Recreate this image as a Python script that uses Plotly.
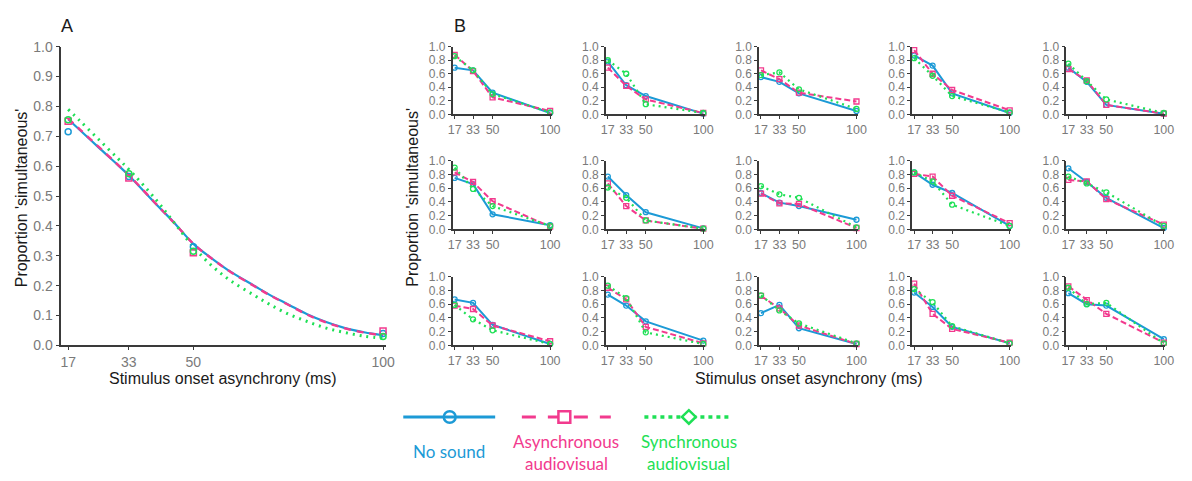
import plotly.graph_objects as go

W, H = 1192, 481
SOA = [17, 33, 50, 100]
SOA_TICKS = ["17", "33", "50", "100"]
PROP_TICKS_A = [0.0, 0.1, 0.2, 0.3, 0.4, 0.5, 0.6, 0.7, 0.8, 0.9, 1.0]
PROP_TICKS_B = [0.0, 0.2, 0.4, 0.6, 0.8, 1.0]

# ---------- Panel A: group means ----------
A_nosound = [0.715, 0.565, 0.33, 0.040]
A_async = [0.750, 0.560, 0.31, 0.048]
A_sync = [0.755, 0.575, 0.315, 0.030]

# ---------- Panel A: fitted curves ----------
fit_soa = [17, 20, 25, 30, 33, 40, 45, 50, 55, 60, 66, 70, 75, 80, 85, 90, 95, 100]
fit_nosound = [0.757, 0.722, 0.663, 0.605, 0.569, 0.475, 0.410, 0.340, 0.290, 0.245,
               0.200, 0.170, 0.137, 0.104, 0.078, 0.058, 0.044, 0.034]
fit_async = [0.760, 0.724, 0.665, 0.606, 0.570, 0.476, 0.409, 0.340, 0.289, 0.244,
             0.199, 0.169, 0.136, 0.103, 0.077, 0.057, 0.043, 0.033]
fit_sync = [0.790, 0.753, 0.690, 0.627, 0.589, 0.490, 0.410, 0.330, 0.265, 0.215,
            0.168, 0.138, 0.105, 0.080, 0.058, 0.043, 0.031, 0.024]

# ---------- Panel B: individual participants (rows left->right, top->bottom) ----------
B_nosound = [
    [0.69, 0.65, 0.32, 0.02], [0.78, 0.43, 0.27, 0.01], [0.55, 0.48, 0.31, 0.05],
    [0.87, 0.72, 0.31, 0.02], [0.69, 0.48, 0.14, 0.01],
    [0.75, 0.66, 0.22, 0.06], [0.77, 0.50, 0.25, 0.015], [0.53, 0.39, 0.34, 0.14],
    [0.83, 0.65, 0.53, 0.05], [0.89, 0.69, 0.46, 0.02],
    [0.67, 0.62, 0.30, 0.02], [0.74, 0.58, 0.35, 0.07], [0.47, 0.59, 0.25, 0.02],
    [0.77, 0.56, 0.27, 0.03], [0.76, 0.60, 0.58, 0.09],
]
B_async = [
    [0.88, 0.64, 0.25, 0.05], [0.69, 0.42, 0.22, 0.02], [0.65, 0.52, 0.32, 0.19],
    [0.95, 0.60, 0.36, 0.06], [0.67, 0.50, 0.14, 0.01],
    [0.83, 0.69, 0.41, 0.04], [0.67, 0.34, 0.13, 0.01], [0.52, 0.38, 0.37, 0.02],
    [0.81, 0.77, 0.49, 0.09], [0.72, 0.70, 0.44, 0.07],
    [0.58, 0.53, 0.29, 0.06], [0.84, 0.67, 0.27, 0.03], [0.72, 0.54, 0.29, 0.02],
    [0.90, 0.46, 0.24, 0.04], [0.86, 0.66, 0.46, 0.04],
]
B_sync = [
    [0.86, 0.65, 0.30, 0.03], [0.80, 0.60, 0.15, 0.02], [0.58, 0.62, 0.37, 0.08],
    [0.83, 0.57, 0.27, 0.03], [0.75, 0.49, 0.22, 0.02],
    [0.90, 0.59, 0.34, 0.05], [0.61, 0.46, 0.13, 0.01], [0.63, 0.51, 0.46, 0.03],
    [0.83, 0.70, 0.36, 0.05], [0.77, 0.67, 0.54, 0.05],
    [0.59, 0.38, 0.22, 0.02], [0.87, 0.69, 0.19, 0.02], [0.73, 0.51, 0.32, 0.03],
    [0.82, 0.63, 0.28, 0.03], [0.84, 0.60, 0.62, 0.03],
]

BLUE, PINK, GREEN = "#1C9AD6", "#F23A8E", "#1EE055"
AXC = "#3a3a3a"
TICKC = "#7a7a7a"
FONT = "Liberation Sans, Arial, sans-serif"


def fx(px):
    return px / W


def fy(py):
    return 1 - py / H


fig = go.Figure()
layout = dict(
    width=W, height=H, margin=dict(l=0, r=0, t=0, b=0),
    paper_bgcolor="white", plot_bgcolor="white", showlegend=False,
    font=dict(family=FONT),
)


def axis_common(size, ticklen):
    return dict(showline=True, linecolor=AXC, linewidth=1.6, ticks="outside",
                ticklen=ticklen, tickwidth=1.3, tickcolor=AXC, showgrid=False,
                zeroline=False, fixedrange=True,
                tickfont=dict(family=FONT, size=size, color=TICKC))


# ---------- Panel A ----------
layout["xaxis"] = dict(axis_common(14, 3), domain=[fx(57), fx(386)], range=[15.2, 100.9],
                       tickvals=SOA, ticktext=SOA_TICKS, anchor="y")
layout["yaxis"] = dict(axis_common(14, 4), domain=[fy(349), fy(40)], range=[0, 1.0],
                       tickvals=PROP_TICKS_A, tickformat=".1f", anchor="x")

fit_styles = [(fit_nosound, BLUE, "solid", 2.2), (fit_async, PINK, "7px,6px", 2.4),
              (fit_sync, GREEN, "2px,5px", 3)]
for vals, col, dash, w in fit_styles:
    fig.add_trace(go.Scatter(x=fit_soa, y=vals, mode="lines", xaxis="x", yaxis="y",
                             line=dict(color=col, width=w, dash=dash, shape="spline"),
                             cliponaxis=False, hoverinfo="skip"))
pt_styles = [(A_nosound, BLUE, "circle-open"), (A_async, PINK, "square-open"),
             (A_sync, GREEN, "circle-open")]
for vals, col, sym in pt_styles:
    fig.add_trace(go.Scatter(x=SOA, y=vals, mode="markers", xaxis="x", yaxis="y",
                             marker=dict(symbol=sym, size=6, color=col,
                                         line=dict(width=1.5, color=col)),
                             cliponaxis=False))

# ---------- Panel B ----------
col_x = [453, 608, 763, 918, 1074]
row_y = [(40, 110), (158, 229), (278, 349)]
b_styles = [(B_nosound, BLUE, "solid", "circle-open", 2.0),
            (B_async, PINK, "6px,3px", "square-open", 2.0),
            (B_sync, GREEN, "2px,4px", "circle-open", 2.2)]
for i in range(15):
    r, c = divmod(i, 5)
    k = i + 2
    xa, ya = f"x{k}", f"y{k}"
    layout[f"xaxis{k}"] = dict(axis_common(12.5, 3), domain=[fx(col_x[c]), fx(col_x[c] + 100)],
                               range=[15.3, 101.2], tickvals=SOA, ticktext=SOA_TICKS,
                               anchor=ya)
    layout[f"yaxis{k}"] = dict(axis_common(12, 3), domain=[fy(row_y[r][1]), fy(row_y[r][0])],
                               range=[0, 1.0], tickvals=PROP_TICKS_B, tickformat=".1f",
                               anchor=xa)
    for data, col, dash, sym, w in b_styles:
        fig.add_trace(go.Scatter(x=SOA, y=data[i], mode="lines+markers", xaxis=xa, yaxis=ya,
                                 line=dict(color=col, width=w, dash=dash),
                                 marker=dict(symbol=sym, size=5, color=col,
                                             line=dict(width=1.3, color=col)),
                                 cliponaxis=False))

fig.update_layout(**layout)

# ---------- text ----------
ann = []


def text(x, y, s, size, color="#1a1a1a", angle=0, family=FONT):
    ann.append(dict(x=fx(x), y=fy(y), xref="paper", yref="paper", text=s, showarrow=False,
                    textangle=angle, xanchor="center", yanchor="middle",
                    font=dict(family=family, size=size, color=color)))


text(63, 19, "A", 18)
text(460, 19, "B", 18)
text(17, 196, "Proportion 'simultaneous'", 16, angle=-90)
text(412, 196, "Proportion 'simultaneous'", 16, angle=-90)
text(221, 383, "Stimulus onset asynchrony (ms)", 16)
text(814, 383, "Stimulus onset asynchrony (ms)", 16)

LFONT = "Lato, Open Sans, sans-serif"
text(449, 459, "No sound", 17, BLUE, family=LFONT)
text(568, 448, "Asynchronous", 17, PINK, family=LFONT)
text(568, 471, "audiovisual", 17, PINK, family=LFONT)
text(692, 448, "Synchronous", 17, GREEN, family=LFONT)
text(692, 471, "audiovisual", 17, GREEN, family=LFONT)

# ---------- legend keys (decoration) ----------
shapes = []
ly = 423


def pl(x0, x1, col, dash, w):
    shapes.append(dict(type="line", xref="paper", yref="paper", x0=fx(x0), x1=fx(x1),
                       y0=fy(ly), y1=fy(ly), line=dict(color=col, width=w, dash=dash)))


pl(403, 496, BLUE, "solid", 3)
shapes.append(dict(type="circle", xref="paper", yref="paper", x0=fx(444), x1=fx(456),
                   y0=fy(ly + 6), y1=fy(ly - 6), line=dict(color=BLUE, width=2.5)))
pl(523, 613, PINK, "14px,12px", 3)
shapes.append(dict(type="rect", xref="paper", yref="paper", x0=fx(560), x1=fx(572),
                   y0=fy(ly + 6), y1=fy(ly - 6), fillcolor="white",
                   line=dict(color=PINK, width=2.5)))
pl(647, 735, GREEN, "4px,4px", 3.5)
d = 7
shapes.append(dict(type="path", xref="paper", yref="paper",
                   path=f"M {fx(692-d)} {fy(ly)} L {fx(692)} {fy(ly-d)} L {fx(692+d)} {fy(ly)} "
                        f"L {fx(692)} {fy(ly+d)} Z",
                   fillcolor="white", line=dict(color=GREEN, width=2.5)))

fig.update_layout(annotations=ann, shapes=shapes)
fig.write_html("out.html")
